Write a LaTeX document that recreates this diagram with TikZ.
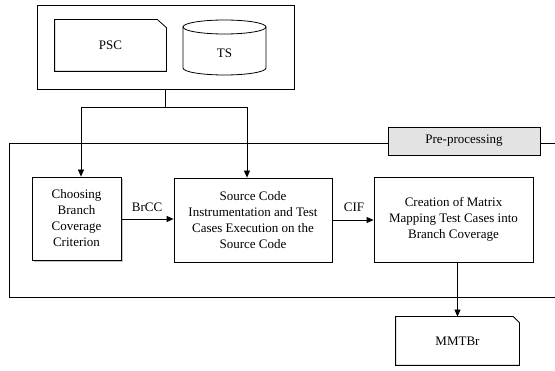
\documentclass[tikz,border=0pt]{standalone}
\usepackage{fontspec}
\setmainfont{Liberation Serif}
\usetikzlibrary{arrows.meta,shadows}
\begin{document}
\begin{tikzpicture}[x=1pt,y=-1pt,
  line width=0.8pt,
  every node/.style={font=\fontsize{13}{16}\selectfont, inner sep=0pt},
  frame/.style={draw, rectangle},
  stepbox/.style={draw, rectangle, fill=white, align=center},
  tagbox/.style={draw, rectangle, fill=gray!22, align=center},
  flow/.style={-{Triangle[length=7pt,width=6pt]}},
  plain/.style={draw=none}
]
\useasboundingbox (0,0) rectangle (555,371);

% input group: program source code and test suite
\node[frame, minimum width=257pt, minimum height=84pt] (inputs) at (165.5,47) {};
\node[plain, minimum width=111pt, minimum height=51pt] (psc) at (110.5,45.5) {PSC};
\draw ([xshift=-9pt]psc.north east) -- (psc.north west) -- (psc.south west)
      -- (psc.south east) -- ([yshift=-8pt]psc.north east) -- cycle;

% test suite as a cylinder
\draw (183,27) -- (183,68) arc[start angle=180, end angle=360, x radius=41.5, y radius=-7]
      -- (266,27);
\draw (224.5,27) ellipse [x radius=41.5, y radius=7];
\node (ts) at (224.5,53) {TS};

% pre-processing frame, open on the right
\draw (555,143) -- (9,143) -- (9,297) -- (555,297);
\node[tagbox, minimum width=152pt, minimum height=28pt] (tag) at (464,141) {Pre-processing};

% processing steps
\node[stepbox, minimum width=89pt, minimum height=83pt,
      drop shadow={shadow xshift=2pt, shadow yshift=-2pt, opacity=0.45}]
      (choose) at (76.5,218.5) {Choosing\\Branch\\Coverage\\Criterion};
\node[stepbox, minimum width=158pt, minimum height=84pt] (instr) at (253,220)
      {Source Code\\Instrumentation and Test\\Cases Execution on the\\Source Code};
\node[stepbox, minimum width=159pt, minimum height=85pt] (matrix) at (453.5,219.5)
      {Creation of Matrix\\Mapping Test Cases into\\Branch Coverage};

% output document
\node[plain, minimum width=123pt, minimum height=48pt] (mmt) at (457.5,341) {MMTBr};
\draw ([xshift=-6pt]mmt.north east) -- (mmt.north west) -- (mmt.south west)
      -- (mmt.south east) -- ([yshift=-6pt]mmt.north east) -- cycle;

% distribution of the inputs
\coordinate (split) at (165.5,107);
\coordinate (leftdrop) at (81,107);
\coordinate (rightdrop) at (247,107);
\draw (inputs.south) -- (split);
\draw (leftdrop) -- (rightdrop);
\draw[flow] (leftdrop) -- (leftdrop |- choose.north);
\draw[flow] (rightdrop) -- (rightdrop |- instr.north);

% flow between the steps
\draw[flow] (choose.east |- 0,219) -- (instr.west |- 0,219);
\node (brcc) at (147,207) {BrCC};
\draw[flow] (instr.east |- 0,220) -- (matrix.west |- 0,220);
\node (cif) at (354,207) {CIF};
\draw[flow] (mmt.north |- matrix.south) -- (mmt.north);
\end{tikzpicture}
\end{document}
